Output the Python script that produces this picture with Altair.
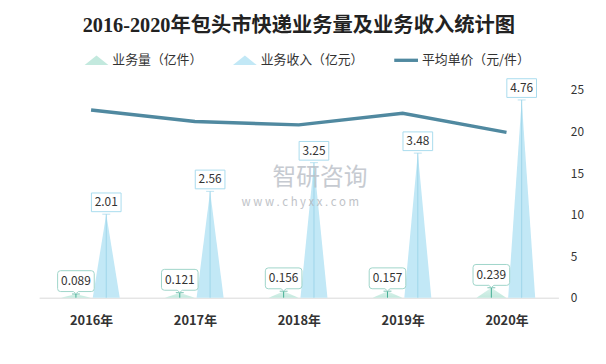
import json
import altair as alt
import pandas as pd

# ---------------- data ----------------
years = ["2016年", "2017年", "2018年", "2019年", "2020年"]
volume = [0.089, 0.121, 0.156, 0.157, 0.239]        # 业务量（亿件）
revenue = [2.01, 2.56, 3.25, 3.48, 4.76]            # 业务收入（亿元）
unit_price = [22.6, 21.2, 20.8, 22.2, 19.9]         # 平均单价（元/件）
series_names = ["业务量（亿件）", "业务收入（亿元）", "平均单价（元/件）"]
right_ticks = [0, 5, 10, 15, 20, 25]

# ---------------- styles ----------------
FONT = "Noto Sans CJK SC"
TITLE_FONT = "'Liberation Serif', 'Noto Sans CJK SC'"
VOL_OFF, REV_OFF = -0.146, 0.146     # offset of each spike from the category centre
VOL_HW, REV_HW = 0.143, 0.13         # half base width of the spikes (category units)
C_VOL, C_REV, C_LINE = "#c3e9de", "#c2e8f6", "#5089a0"

# build the spike triangles (three vertices each) from the data
tri_rows, peak_rows = [], []
for i, (v, r) in enumerate(zip(volume, revenue)):
    for name, val, off, hw in (("vol", v, VOL_OFF, VOL_HW), ("rev", r, REV_OFF, REV_HW)):
        c = i + off
        g = f"{name}{i}"
        tri_rows += [
            {"s": name, "g": g, "x": c - hw, "v": 0.0},
            {"s": name, "g": g, "x": c, "v": val},
            {"s": name, "g": g, "x": c + hw, "v": 0.0},
        ]
        peak_rows.append({"s": name, "x": c, "v": val})
tri = pd.DataFrame(tri_rows)
peaks = pd.DataFrame(peak_rows)
line_df = pd.DataFrame({"x": list(range(len(years))), "p": unit_price})
leg_df = pd.DataFrame({"series": series_names})

label_expr = f"{json.dumps(years, ensure_ascii=False)}[datum.value]"
x_enc = alt.X(
    "x:Q",
    scale=alt.Scale(domain=[-0.5, len(years) - 0.5], nice=False, zero=False),
    axis=alt.Axis(values=list(range(len(years))), labelExpr=label_expr, ticks=False,
                  grid=False, domainColor="#d9d9d9", labelFont=FONT, labelFontWeight="bold",
                  labelFontSize=13, labelColor="#333333", labelPadding=17, title=None),
)
left_scale = alt.Scale(domain=[0, 5], nice=False, zero=True)
y_left = alt.Y("v:Q", scale=left_scale, axis=None, stack=None)

vol_area = alt.Chart(tri).transform_filter("datum.s == 'vol'").mark_area(
    color=alt.Gradient(gradient="linear", x1=0, x2=0, y1=1, y2=0,
                       stops=[alt.GradientStop(color="#c3e9de", offset=0),
                              alt.GradientStop(color="#dcf3ec", offset=1)])
).encode(x=x_enc, y=y_left, detail="g:N")

rev_area = alt.Chart(tri).transform_filter("datum.s == 'rev'").mark_area(
    color=C_REV
).encode(x=x_enc, y=y_left, detail="g:N")

def spike_rule(name, color):
    base = alt.Chart(peaks).transform_filter(f"datum.s == '{name}'")
    rule = base.mark_rule(color=color, strokeWidth=1).encode(
        x=x_enc, y=alt.Y("v:Q", scale=left_scale, axis=None), y2=alt.datum(0))
    cap = base.mark_tick(color=color, orient="horizontal", size=8, thickness=1).encode(
        x=x_enc, y=alt.Y("v:Q", scale=left_scale, axis=None))
    return rule + cap

REV_BOX = "M-1,-0.63L1,-0.63L1,0.63L-1,0.63Z"
VOL_BOX = ("M-0.84,-0.57L0.84,-0.57Q1,-0.57 1,-0.41L1,0.41Q1,0.57 0.84,0.57"
           "L0.14,0.57L0,0.69L-0.14,0.57L-0.84,0.57Q-1,0.57 -1,0.41L-1,-0.41"
           "Q-1,-0.57 -0.84,-0.57Z")

def value_box(name, shape, size, stroke, dy, fmt):
    base = alt.Chart(peaks).transform_filter(f"datum.s == '{name}'")
    box = base.mark_point(shape=shape, size=size, filled=True, fill="white", stroke=stroke,
                          strokeWidth=1, opacity=1, yOffset=dy).encode(
        x=x_enc, y=alt.Y("v:Q", scale=left_scale, axis=None))
    txt = base.mark_text(font=FONT, fontSize=12, color="#333333", yOffset=dy,
                         baseline="middle").encode(
        x=x_enc, y=alt.Y("v:Q", scale=left_scale, axis=None),
        text=alt.Text("v:Q", format=fmt))
    return box + txt

line = alt.Chart(line_df).mark_line(color=C_LINE, strokeWidth=3.5).encode(
    x=x_enc,
    y=alt.Y("p:Q", scale=alt.Scale(domain=[0, 25], nice=False),
            axis=alt.Axis(orient="right", values=right_ticks, domain=False, ticks=False,
                          grid=False, labelFont=FONT, labelFontSize=12,
                          labelColor="#333333", labelPadding=12, title=None)),
)

TRI = "M-1,0.4L0,-0.4L1,0.4Z"
BAR = "M-1,-0.14L1,-0.14L1,0.14L-1,0.14Z"
leg = alt.Legend(title=None, orient="none", legendX=46, legendY=-42, direction="horizontal",
                 columnPadding=30, symbolSize=576, symbolStrokeWidth=0, labelFont=FONT,
                 labelFontSize=13, labelColor="#333333", labelOffset=4, padding=0)
legend_layer = alt.Chart(leg_df).transform_filter("false").mark_point(
    filled=True, opacity=1, size=576
).encode(
    color=alt.Color("series:N", scale=alt.Scale(domain=series_names,
                                                range=[C_VOL, C_REV, C_LINE]), legend=leg),
    shape=alt.Shape("series:N", scale=alt.Scale(domain=series_names,
                                                range=[TRI, TRI, BAR]), legend=leg),
)

wm1 = alt.Chart(pd.DataFrame({"t": ["智研咨询"]})).mark_text(
    font=FONT, fontSize=24, color="#b9bec6", opacity=0.8
).encode(x=alt.value(284), y=alt.value(89), text="t:N")
wm2 = alt.Chart(pd.DataFrame({"t": ["w w w . c h y x x . c o m"]})).mark_text(
    font=FONT, fontSize=11.5, color="#b0b4ba", opacity=0.8
).encode(x=alt.value(264), y=alt.value(114), text="t:N")

chart = alt.layer(
    vol_area, rev_area,
    spike_rule("vol", "#44ad94"), spike_rule("rev", "#9fd6ea"),
    line,
    value_box("rev", REV_BOX, 900, "#a9dcee", -12, ".2f"),
    value_box("vol", VOL_BOX, 1369, "#9fd5c9", -13, ".3f"),
    wm1, wm2,
    legend_layer,
).resolve_scale(y="independent").properties(
    width=525, height=210,
    background="white",
    autosize=alt.AutoSizeParams(type="none"),
    padding={"left": 31.5, "top": 81, "right": 40, "bottom": 50},
    title=alt.TitleParams("2016-2020年包头市快递业务量及业务收入统计图", font=TITLE_FONT,
                          fontSize=20.5, fontWeight="bold", color="#222222",
                          anchor="middle", offset=12),
).configure_view(strokeWidth=0)

chart.save("out.html", embed_options={"renderer": "svg", "actions": False})
